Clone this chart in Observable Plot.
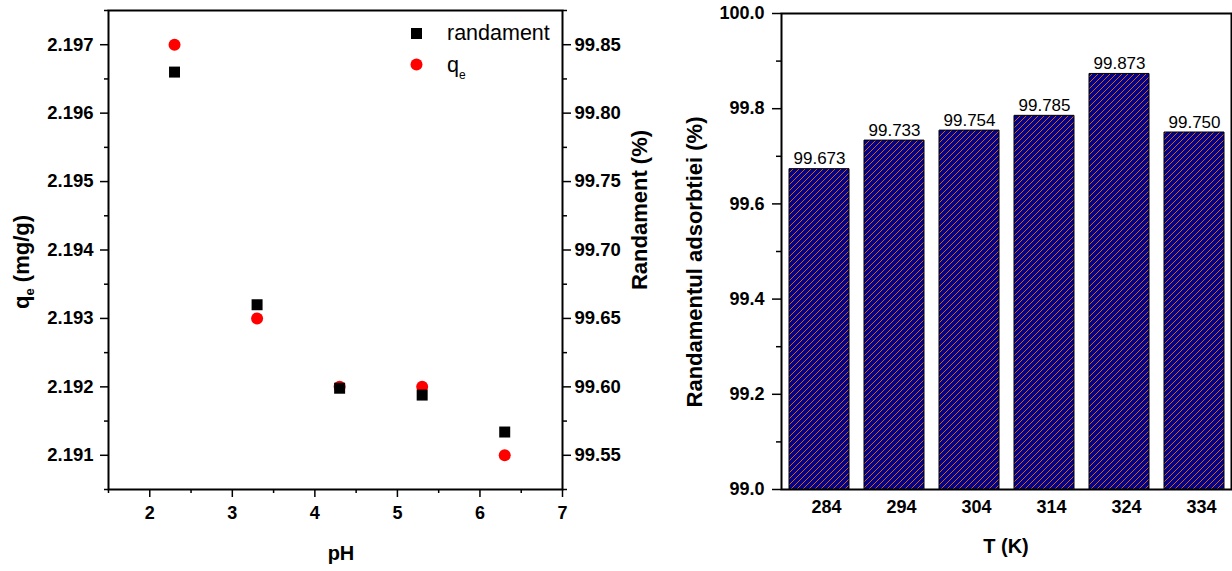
<!DOCTYPE html>
<html><head><meta charset="utf-8">
<script src="https://cdn.jsdelivr.net/npm/d3@7"></script>
<script src="https://cdn.jsdelivr.net/npm/@observablehq/plot@0.6"></script>
<style>
body{margin:0;background:#fff;}
#root{position:relative;width:1232px;height:571px;overflow:hidden;background:#fff;font-family:"Liberation Sans",Arial,sans-serif;color:#000;}
#root > svg{position:absolute;top:0;}
</style></head>
<body>
<svg width="0" height="0" style="position:absolute">
  <defs>
    <pattern id="hatch" patternUnits="userSpaceOnUse" width="6" height="6">
      <rect width="6" height="6" fill="#02028a"></rect>
      <path d="M-1,1 L1,-1 M0,6 L6,0 M5,7 L7,5" stroke="#d06010" stroke-width="1"></path>
    </pattern>
  </defs>
</svg>
<div id="root"></div>
<script>
// ---- Left panel data (pH study) ----
const pH = [2.3, 3.3, 4.3, 5.3, 6.3];
const qe = [2.197, 2.193, 2.192, 2.192, 2.191];
const randament = [99.83, 99.66, 99.599, 99.594, 99.567];
const pHTicks = [2, 3, 4, 5, 6, 7];
const pHMinor = [1.5, 2.5, 3.5, 4.5, 5.5, 6.5];
const qeTicks = [2.191, 2.192, 2.193, 2.194, 2.195, 2.196, 2.197];
const qeMinor = [2.1905, 2.1915, 2.1925, 2.1935, 2.1945, 2.1955, 2.1965, 2.1975];
const randTicks = [99.55, 99.60, 99.65, 99.70, 99.75, 99.80, 99.85];
const randMinor = [99.525, 99.575, 99.625, 99.675, 99.725, 99.775, 99.825, 99.875];

// ---- Right panel data (temperature study) ----
const temps = ["284", "294", "304", "314", "324", "334"];
const yieldT = [99.673, 99.733, 99.754, 99.785, 99.873, 99.750];
const yieldTicks = [99.0, 99.2, 99.4, 99.6, 99.8, 100.0];
const yieldMinor = [99.1, 99.3, 99.5, 99.7, 99.9];

const scatter = pH.map((p, i) => ({pH: p, qe: qe[i], r: randament[i]}));
const bars = temps.map((t, i) => ({T: t, v: yieldT[i]}));

const FONT = '"Liberation Sans", Arial, sans-serif';
const root = document.getElementById("root");

const leftFrame = {
  width: 620, height: 571,
  marginLeft: 108, marginRight: 58, marginTop: 10, marginBottom: 82,
  x: {domain: [1.5, 7]},
  style: {fontFamily: FONT, color: "black", background: "transparent", overflow: "visible"}
};

// Base layer: q_e axis, pH axis, red circles
const base = Plot.plot({
  ...leftFrame,
  y: {domain: [2.1905, 2.1975]},
  marks: [
    Plot.frame({stroke: "black", strokeWidth: 2}),
    Plot.axisY(qeTicks, {anchor: "left", tickSize: 8, tickPadding: 7, strokeWidth: 1.5,
      tickFormat: d3.format(".3f"), fontWeight: "bold", fontSize: 18.5, label: null}),
    Plot.axisY(qeMinor, {anchor: "left", tickSize: 4, strokeWidth: 1.5, tickFormat: () => "", label: null}),
    Plot.axisX(pHTicks, {anchor: "bottom", tickSize: 8, tickPadding: 9, strokeWidth: 1.5,
      tickFormat: d3.format("d"), fontWeight: "bold", fontSize: 18, label: null}),
    Plot.axisX(pHMinor, {anchor: "bottom", tickSize: 4, strokeWidth: 1.5, tickFormat: () => "", label: null}),
    Plot.dot(scatter, {x: "pH", y: "qe", r: 6, fill: "#ff0000", stroke: "none"})
  ]
});
base.style.left = "0px";
root.appendChild(base);

// Overlay layer: randament axis (right), black squares
const over = Plot.plot({
  ...leftFrame,
  x: {domain: [1.5, 7], axis: null},
  y: {domain: [99.525, 99.875]},
  marks: [
    Plot.axisY(randTicks, {anchor: "right", tickSize: 8, tickPadding: 4, strokeWidth: 1.5,
      tickFormat: d3.format(".2f"), fontWeight: "bold", fontSize: 18.5, label: null}),
    Plot.axisY(randMinor, {anchor: "right", tickSize: 4, strokeWidth: 1.5, tickFormat: () => "", label: null}),
    Plot.dot(scatter, {x: "pH", y: "r", symbol: "square", r: 6.2, fill: "black", stroke: "none"})
  ]
});
over.style.left = "0px";
root.appendChild(over);

// Right panel: bar chart
const barChart = Plot.plot({
  width: 612, height: 571,
  marginLeft: 161, marginRight: 1, marginTop: 13, marginBottom: 82,
  x: {type: "band", domain: temps, paddingInner: 0.2, paddingOuter: 0.1},
  y: {domain: [99.0, 100.0]},
  style: {fontFamily: FONT, color: "black", background: "transparent", overflow: "visible"},
  marks: [
    Plot.barY(bars, {x: "T", y: "v", fill: "url(#hatch)", stroke: "black", strokeWidth: 1, clip: true}),
    Plot.text(bars, {x: "T", y: "v", text: d => d3.format(".3f")(d.v), lineAnchor: "bottom", dy: -5,
      fontSize: 17, fill: "black"}),
    Plot.frame({stroke: "black", strokeWidth: 2}),
    Plot.axisY(yieldTicks, {anchor: "left", tickSize: 9, tickPadding: 8, strokeWidth: 1.5,
      tickFormat: d3.format(".1f"), fontWeight: "bold", fontSize: 18, label: null}),
    Plot.axisY(yieldMinor, {anchor: "left", tickSize: 5, strokeWidth: 1.5, tickFormat: () => "", label: null}),
    Plot.axisX({anchor: "bottom", tickSize: 0, tickPadding: 11, dx: 7,
      fontWeight: "bold", fontSize: 18, label: null})
  ]
});
barChart.style.left = "620px";
root.appendChild(barChart);

// Titles and legend
const NS = "http://www.w3.org/2000/svg";
const deco = document.createElementNS(NS, "svg");
deco.setAttribute("width", 1232);
deco.setAttribute("height", 571);
deco.style.left = "0px";
deco.style.pointerEvents = "none";
deco.innerHTML = `
<g font-family='${FONT}' fill="black">
  <rect x="411" y="28" width="11" height="11" fill="black"></rect>
  <text x="447" y="40" font-size="21.5">randament</text>
  <circle cx="416.5" cy="64.5" r="6" fill="#ff0000"></circle>
  <text x="447" y="72" font-size="21.5">q<tspan font-size="12" dy="7">e</tspan></text>

  <text transform="translate(29,262) rotate(-90)" text-anchor="middle" font-size="22" font-weight="bold">q<tspan font-size="13" dy="5">e</tspan><tspan dy="-5"> (mg/g)</tspan></text>
  <text transform="translate(647,210) rotate(-90)" text-anchor="middle" font-size="22" font-weight="bold">Randament (%)</text>
  <text x="341" y="560" text-anchor="middle" font-size="20" font-weight="bold">pH</text>

  <text transform="translate(702,262) rotate(-90)" text-anchor="middle" font-size="22" font-weight="bold">Randamentul adsorbtiei (%)</text>
  <text x="1006" y="553" text-anchor="middle" font-size="20" font-weight="bold">T (K)</text>
</g>`;
root.appendChild(deco);
</script>
</body></html>
